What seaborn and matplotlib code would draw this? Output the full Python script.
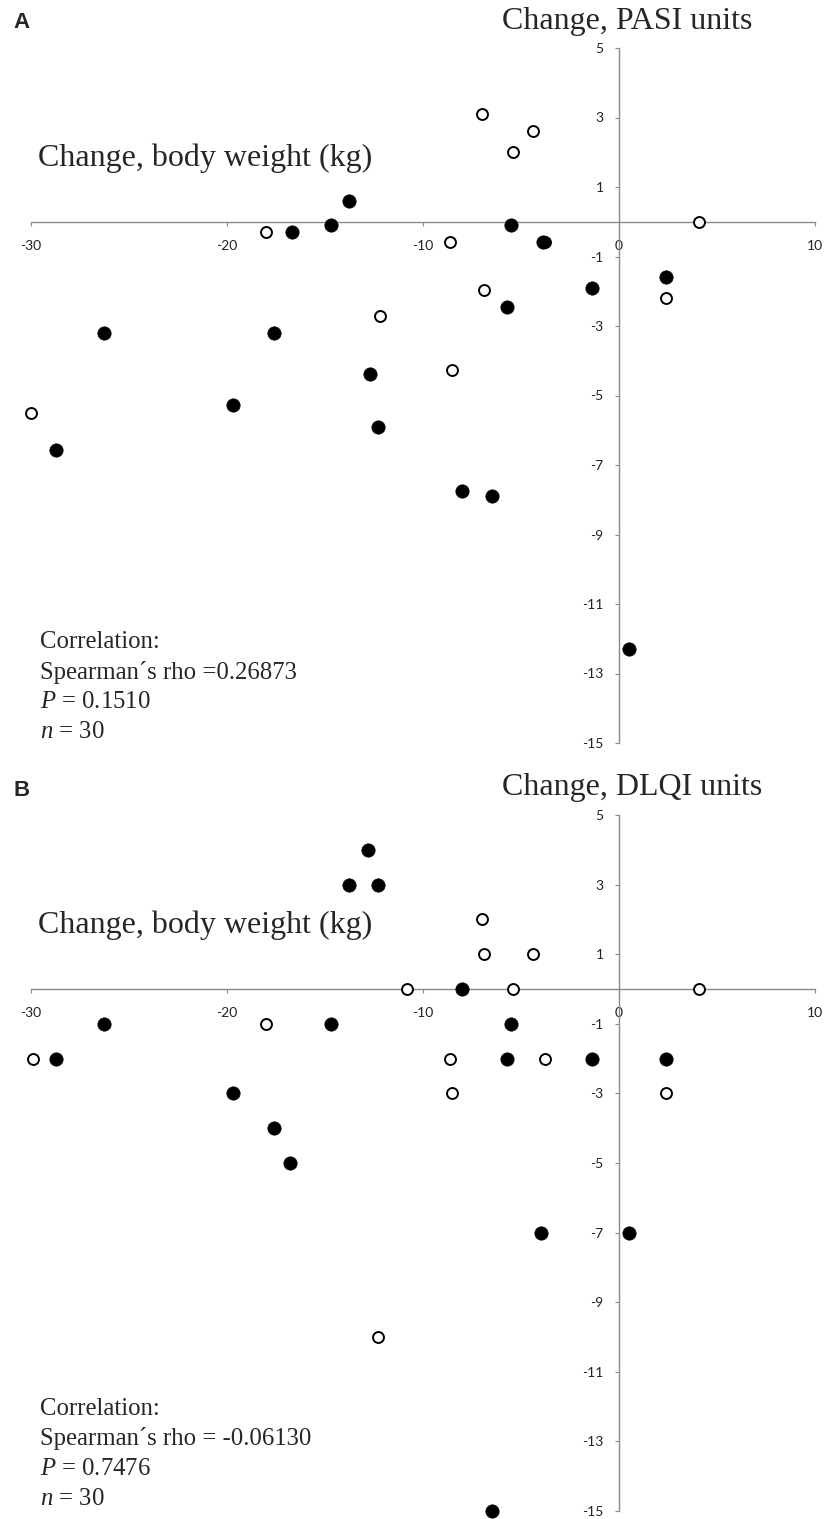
"""Change in body weight vs change in PASI / DLQI (two stacked quadrant scatters)."""

import matplotlib
matplotlib.use("Agg")
import matplotlib.pyplot as plt
import pandas as pd
import seaborn as sns

# ---- data ----
# Panel A: PASI change
pasi_filled_x = [-16.7, -14.7, -13.8, -26.3, -17.6, -5.5, -3.9, -5.7, -1.4, 2.4,
                 -28.7, -19.7, -12.7, -12.3, -8.0, -6.5, 0.5]
pasi_filled_y = [-0.3, -0.1, 0.6, -3.2, -3.2, -0.1, -0.58, -2.45, -1.9, -1.6,
                 -6.58, -5.28, -4.39, -5.9, -7.76, -7.89, -12.3]
pasi_open_x = [-18.0, -12.2, -7.0, -4.4, -5.4, 4.1, -8.6, -3.8, -6.9, 2.4, -30.0, -8.5]
pasi_open_y = [-0.3, -2.7, 3.1, 2.6, 2.0, 0.0, -0.58, -0.58, -1.96, -2.2, -5.5, -4.28]

# Panel B: DLQI change
dlqi_filled_x = [-12.8, -13.8, -12.3, -26.3, -14.7, -28.7, -19.7, -17.6, -8.0, -5.5,
                 -5.7, -1.4, 2.4, -16.8, -4.0, 0.5, -6.5]
dlqi_filled_y = [4, 3, 3, -1, -1, -2, -3, -4, 0, -1, -2, -2, -2, -5, -7, -7, -15]
dlqi_open_x = [-10.8, -18.0, -29.9, -7.0, -6.9, -4.4, -5.4, 4.1, -8.6, -3.8, -8.5, 2.4, -12.3]
dlqi_open_y = [0, -1, -2, 2, 1, 1, 0, 0, -2, -2, -3, -3, -10]

x_ticks = [-30, -20, -10, 0, 10]
y_ticks = [5, 3, 1, -1, -3, -5, -7, -9, -11, -13, -15]

panels = [
    ("A", "Change, PASI units", pasi_filled_x, pasi_filled_y, pasi_open_x, pasi_open_y,
     ["Correlation:", "Spearman\u00b4s rho =0.26873", r"$\mathit{P}$ = 0.1510", r"$\mathit{n}$ = 30"]),
    ("B", "Change, DLQI units", dlqi_filled_x, dlqi_filled_y, dlqi_open_x, dlqi_open_y,
     ["Correlation:", "Spearman\u00b4s rho = -0.06130", r"$\mathit{P}$ = 0.7476", r"$\mathit{n}$ = 30"]),
]

sns.set_theme(style="white")
plt.rcParams["font.family"] = ["Liberation Serif", "DejaVu Serif"]
plt.rcParams["mathtext.fontset"] = "custom"
plt.rcParams["mathtext.rm"] = "Liberation Serif"
plt.rcParams["mathtext.it"] = "Liberation Serif:italic"

W, H = 826, 1519
fig = plt.figure(figsize=(W / 100, H / 100), dpi=100)
axis_grey = "#8a8a8a"
tick_font = {"family": "Lato", "size": 10, "color": "#222222"}

# axes boxes in pixels: (left, top, right, bottom) of the data range
boxes = [(31, 48, 815, 743), (31, 815, 815, 1511)]

for (letter, ylab, fx, fy, ox, oy, stats), (l, t, r, b) in zip(panels, boxes):
    ax = fig.add_axes([l / W, 1 - b / H, (r - l) / W, (b - t) / H])
    df_f = pd.DataFrame({"weight": fx, "score": fy})
    df_o = pd.DataFrame({"weight": ox, "score": oy})
    sns.scatterplot(data=df_o, x="weight", y="score", ax=ax, s=62,
                    facecolor="white", edgecolor="black", linewidth=1.4,
                    clip_on=False, zorder=3)
    sns.scatterplot(data=df_f, x="weight", y="score", ax=ax, s=92,
                    color="black", edgecolor="black", linewidth=0.5,
                    clip_on=False, zorder=4)
    ax.set_xlim(-30, 10)
    ax.set_ylim(-15, 5)
    ax.set_xlabel("")
    ax.set_ylabel("")
    for side in ("top", "right"):
        ax.spines[side].set_visible(False)
    for side in ("left", "bottom"):
        ax.spines[side].set_position(("data", 0))
        ax.spines[side].set_color(axis_grey)
        ax.spines[side].set_linewidth(1.0)
    ax.set_xticks(x_ticks)
    ax.set_yticks(y_ticks)
    ax.set_xticklabels([str(v) for v in x_ticks], fontdict=tick_font)
    ax.set_yticklabels([str(v) for v in y_ticks], fontdict=tick_font)
    ax.tick_params(axis="x", direction="out", length=3, width=0.8,
                   color=axis_grey, pad=10, bottom=True)
    ax.tick_params(axis="y", direction="out", length=3, width=0.8,
                   color=axis_grey, pad=8, left=True)
    ax.patch.set_alpha(0)

    # panel letter, axis titles and stats block (pixel positions of the figure)
    fig.text(13 / W, 1 - (t - 25) / H, letter, fontsize=16, fontweight="bold",
             family="Liberation Sans", va="center", ha="left")
    fig.text(502 / W, 1 - (t - 27) / H, ylab, fontsize=23, va="center", ha="left")
    fig.text(38 / W, 1 - (t + 110) / H, "Change, body weight (kg)", fontsize=23,
             va="center", ha="left")
    for i, line in enumerate(stats):
        fig.text(40 / W, 1 - (t + 594 + 30 * i) / H, line, fontsize=17.8,
                 va="center", ha="left")

fig.savefig("out.png", dpi=100)
